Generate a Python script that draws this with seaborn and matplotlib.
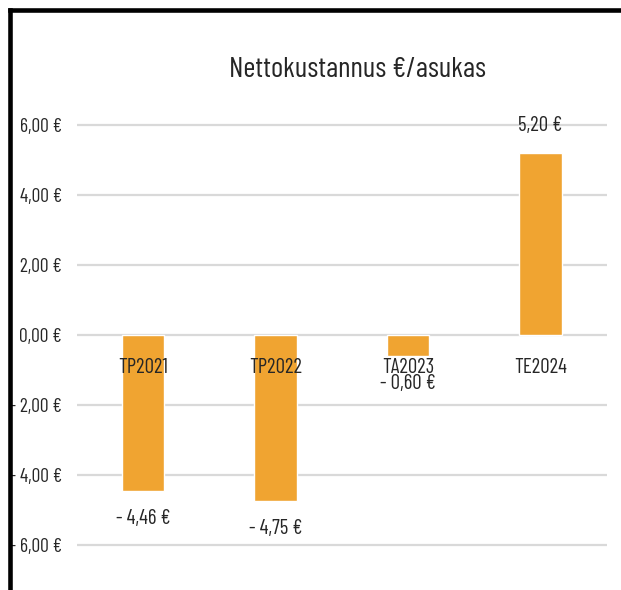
import matplotlib
matplotlib.use("Agg")
import matplotlib.pyplot as plt
import seaborn as sns
from matplotlib.lines import Line2D

# Nettokustannus per asukas
kaudet = ["TP2021", "TP2022", "TA2023", "TE2024"]
arvot = [-4.46, -4.75, -0.60, 5.20]
y_tikit = [-6, -4, -2, 0, 2, 4, 6]


def eur(v):
    s = f"{abs(v):.2f}".replace(".", ",") + " €"
    return "- " + s if v < 0 else s


sns.set_style("white")
plt.rcParams["font.family"] = ["Barlow Condensed", "DejaVu Sans"]
teksti = "#262626"

fig = plt.figure(figsize=(6.21, 5.90), dpi=100)
ax = fig.add_axes([0.124, 0.017, 0.853, 0.8305])

sns.barplot(x=kaudet, y=arvot, color="#F0A431", saturation=1, width=0.32, ax=ax)

ax.set_ylim(-7, 7)
ax.set_xlim(-0.5, 3.5)
ax.set_yticks(y_tikit)
ax.set_yticklabels([eur(v) for v in y_tikit])
ax.yaxis.grid(True, color="#d9d9d9", linewidth=1.6)
ax.set_axisbelow(True)
for s in ax.spines.values():
    s.set_visible(False)
ax.set_xticks([])
ax.tick_params(axis="y", length=0, pad=11, labelsize=14, labelcolor=teksti)
ax.set_xlabel("")
ax.set_ylabel("")

# luokkien nimet nollatason alle, pylväiden päälle
for i, k in enumerate(kaudet):
    ax.annotate(k, (i, 0), xytext=(0, -23.5), textcoords="offset points",
                ha="center", va="center", fontsize=15, color=teksti, zorder=5)

# arvolaput pylväiden päihin
for i, v in enumerate(arvot):
    dy = 19.5 if v > 0 else -20
    ax.annotate(eur(v), (i, v), xytext=(0, dy), textcoords="offset points",
                ha="center", va="center", fontsize=15, color=teksti, zorder=5)

fig.text(0.575, 0.881, "Nettokustannus €/asukas", ha="center", va="center",
         fontsize=21, color=teksti)

# musta kehys ylä- ja vasemmassa reunassa
fig.add_artist(Line2D([0.0161, 1.0], [0.983, 0.983], color="black", linewidth=3.3,
                      transform=fig.transFigure, solid_capstyle="projecting"))
fig.add_artist(Line2D([0.0161, 0.0161], [0.0, 0.983], color="black", linewidth=3.3,
                      transform=fig.transFigure, solid_capstyle="projecting"))

fig.savefig("out.png", dpi=100)
